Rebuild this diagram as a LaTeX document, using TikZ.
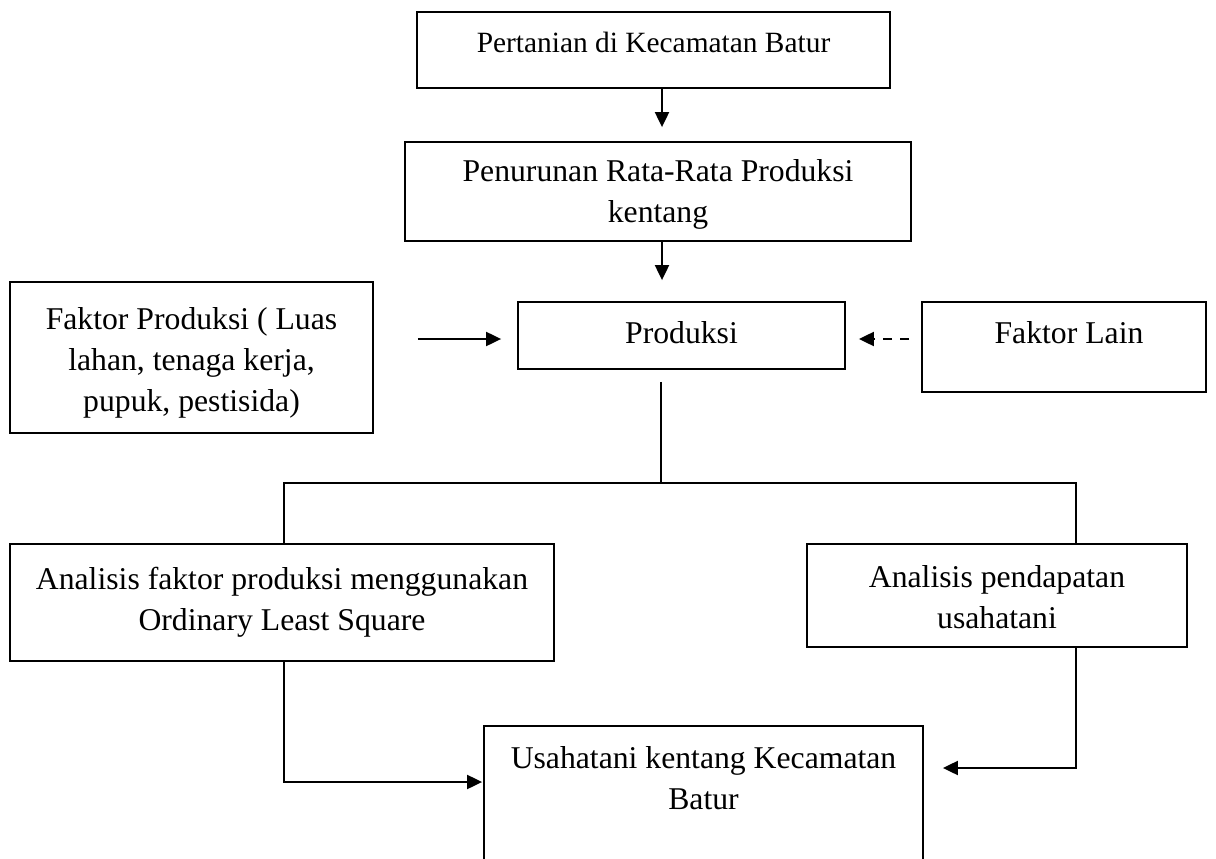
\documentclass[tikz,border=0pt]{standalone}
\usepackage{fontspec}
\setmainfont{Liberation Serif}
\usetikzlibrary{arrows.meta,calc}
\begin{document}
\begin{tikzpicture}[x=1pt,y=-1pt,
  box/.style={draw, line width=1.8pt, inner sep=0pt},
  txt/.style={align=center, inner sep=0pt, font=\fontsize{31.7}{41}\selectfont},
  arr/.style={line width=2pt, -{Triangle[length=15pt,width=14pt]}},
  ln/.style={line width=2pt},
]
\useasboundingbox (0,0) rectangle (1216,859);
\begin{scope}
\clip (0,0) rectangle (1216,859);
% boxes
\node[box, minimum width=473pt, minimum height=76pt] (b1) at (653.5,50) {};
\node[box, minimum width=506pt, minimum height=99pt] (b2) at (658,191.5) {};
\node[box, minimum width=363pt, minimum height=151pt] (fp) at (191.5,357.5) {};
\node[box, minimum width=327pt, minimum height=67pt] (prod) at (681.5,335.5) {};
\node[box, minimum width=284pt, minimum height=90pt] (fl) at (1064,347) {};
\node[box, minimum width=544pt, minimum height=117pt] (af) at (282,602.5) {};
\node[box, minimum width=380pt, minimum height=103pt] (ap) at (997,595.5) {};
\node[box, minimum width=439pt, minimum height=160pt, anchor=north] (us) at (703.5,725) {};
% texts
\node[txt, font=\fontsize{29.4}{40}\selectfont, anchor=base] (t1) at (653.5,53) {Pertanian di Kecamatan Batur};
\node[txt] (t2) at ($(b2.center)+(0,3)$) {Penurunan Rata-Rata Produksi\\kentang};
\node[txt] (t3) at ($(fp.center)+(0,5)$) {Faktor Produksi ( Luas\\lahan, tenaga kerja,\\pupuk, pestisida)};
\node[txt, anchor=base] (t4) at (681.5,343) {Produksi};
\node[txt, anchor=base] (t5) at (1069,343) {Faktor Lain};
\node[txt] (t6) at (af.center) {Analisis faktor produksi menggunakan\\Ordinary Least Square};
\node[txt] (t7) at ($(ap.center)+(0,2)$) {Analisis pendapatan\\usahatani};
\node[txt, anchor=north] (t8) at (703.5,746) {Usahatani kentang Kecamatan\\Batur};
% helper coordinates
\coordinate (xa) at (662,0);
\coordinate (xv) at (661,0);
\coordinate (xl) at (284,0);
\coordinate (xr) at (1076,0);
\coordinate (ya) at (0,339);
\coordinate (yh) at (0,483);
\coordinate (yl) at (0,782);
\coordinate (yr) at (0,768);
% connectors
\draw[arr] (b1.south -| xa) -- ($(b2.north -| xa)+(0,-14)$);
\draw[arr] (b2.south -| xa) -- ($(prod.north -| xa)+(0,-21)$);
\draw[arr] ($(fp.east |- ya)+(44,0)$) -- ($(prod.west |- ya)+(-16,0)$);
\draw[arr, dash pattern=on 9pt off 8pt] ($(fl.west |- ya)+(-12,0)$) -- ($(prod.east |- ya)+(13,0)$);
\draw[ln] ($(prod.south -| xv)+(0,12)$) -- (xv |- yh);
\draw[ln] (af.north -| xl) -- (xl |- yh) -- (xr |- yh) -- (ap.north -| xr);
\draw[arr] (af.south -| xl) -- (xl |- yl) -- ($(us.west |- yl)+(-1,0)$);
\draw[arr] (ap.south -| xr) -- (xr |- yr) -- ($(us.east |- yr)+(19,0)$);
\end{scope}
\end{tikzpicture}
\end{document}
